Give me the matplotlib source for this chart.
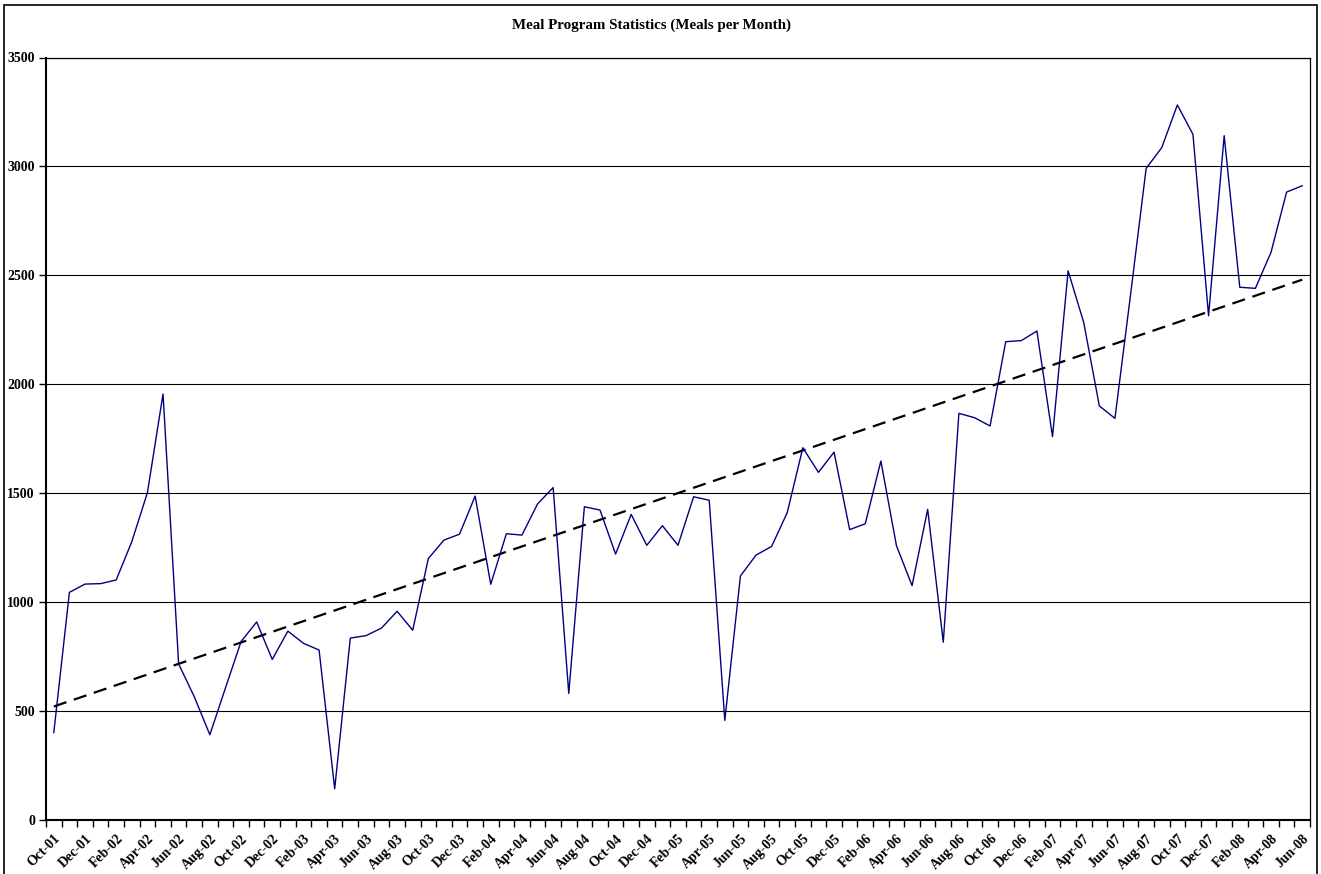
import numpy as np
import pandas as pd
import matplotlib
matplotlib.use("Agg")
import matplotlib.pyplot as plt
from matplotlib.patches import Rectangle

plt.rcParams['font.family'] = ['Liberation Serif', 'DejaVu Serif']
plt.rcParams['font.weight'] = 'bold'

# mois d'oct. 2001 a juin 2008
months = pd.date_range('2001-10-01', periods=81, freq='MS').strftime('%b-%y').tolist()

meals = [400, 1044, 1082, 1084, 1101, 1277, 1502, 1955, 715, 565,
         390, 605, 818, 908, 736, 866, 810, 779, 142, 834,
         845, 880, 957, 870, 1199, 1284, 1311, 1486, 1081, 1313,
         1307, 1450, 1525, 580, 1437, 1422, 1220, 1402, 1260, 1350,
         1260, 1483, 1467, 456, 1119, 1215, 1255, 1410, 1708, 1595,
         1688, 1332, 1359, 1647, 1258, 1075, 1425, 815, 1866, 1846,
         1808, 2195, 2200, 2244, 1759, 2520, 2283, 1900, 1843, 2410,
         2991, 3086, 3282, 3147, 2314, 3141, 2445, 2440, 2605, 2882,
         2911]

yticks = [0, 500, 1000, 1500, 2000, 2500, 3000, 3500]

x = np.arange(len(meals))
# tendance lineaire (comme dans excel)
a, b = np.polyfit(x, meals, 1)
trend = a * x + b

W, H = 1321, 874
fig = plt.figure(figsize=(W / 100, H / 100), dpi=100)

# cadre exterieur du graphique
fig.patches.append(Rectangle((4 / W, -0.05), 1313 / W, 1.05 - 5 / H,
                             transform=fig.transFigure, fill=False,
                             edgecolor='black', linewidth=1.2))

ax = fig.add_axes([46 / W, 1 - 819.7 / H, 1264 / W, (819.7 - 57.5) / H])

for v in yticks[1:]:
    ax.axhline(v, color='black', linewidth=0.8, zorder=1)

ax.plot(x, meals, color='#000080', linewidth=1.0, zorder=3)
ax.plot(x, trend, color='black', linewidth=1.6, linestyle=(0, (6, 3.5)), zorder=2)

ax.set_xlim(-0.5, len(meals) - 0.5)
ax.set_ylim(0, 3500)
ax.set_yticks(yticks)
ax.set_yticklabels([str(v) for v in yticks], fontsize=10, fontweight='bold')
ax.tick_params(axis='y', direction='out', length=5, width=1, pad=3)

# graduations entre les categories, etiquettes un mois sur deux
ax.set_xticks(np.arange(len(meals) + 1) - 0.5)
ax.set_xticklabels([])
ax.tick_params(axis='x', which='major', direction='out', length=5, width=1)
ax.set_xticks(x[::2], minor=True)
ax.set_xticklabels(months[::2], minor=True, rotation=45, ha='right',
                   rotation_mode='anchor', fontsize=10, fontweight='bold')
ax.tick_params(axis='x', which='minor', length=0, pad=9)

for s in ax.spines.values():
    s.set_linewidth(0.9)
ax.spines['left'].set_linewidth(1.5)
ax.spines['bottom'].set_linewidth(1.5)

fig.text(652 / W, 1 - 25 / H, 'Meal Program Statistics (Meals per Month)',
         ha='center', va='center', fontsize=10.8, fontweight='bold')

fig.savefig('out.png', dpi=100)
